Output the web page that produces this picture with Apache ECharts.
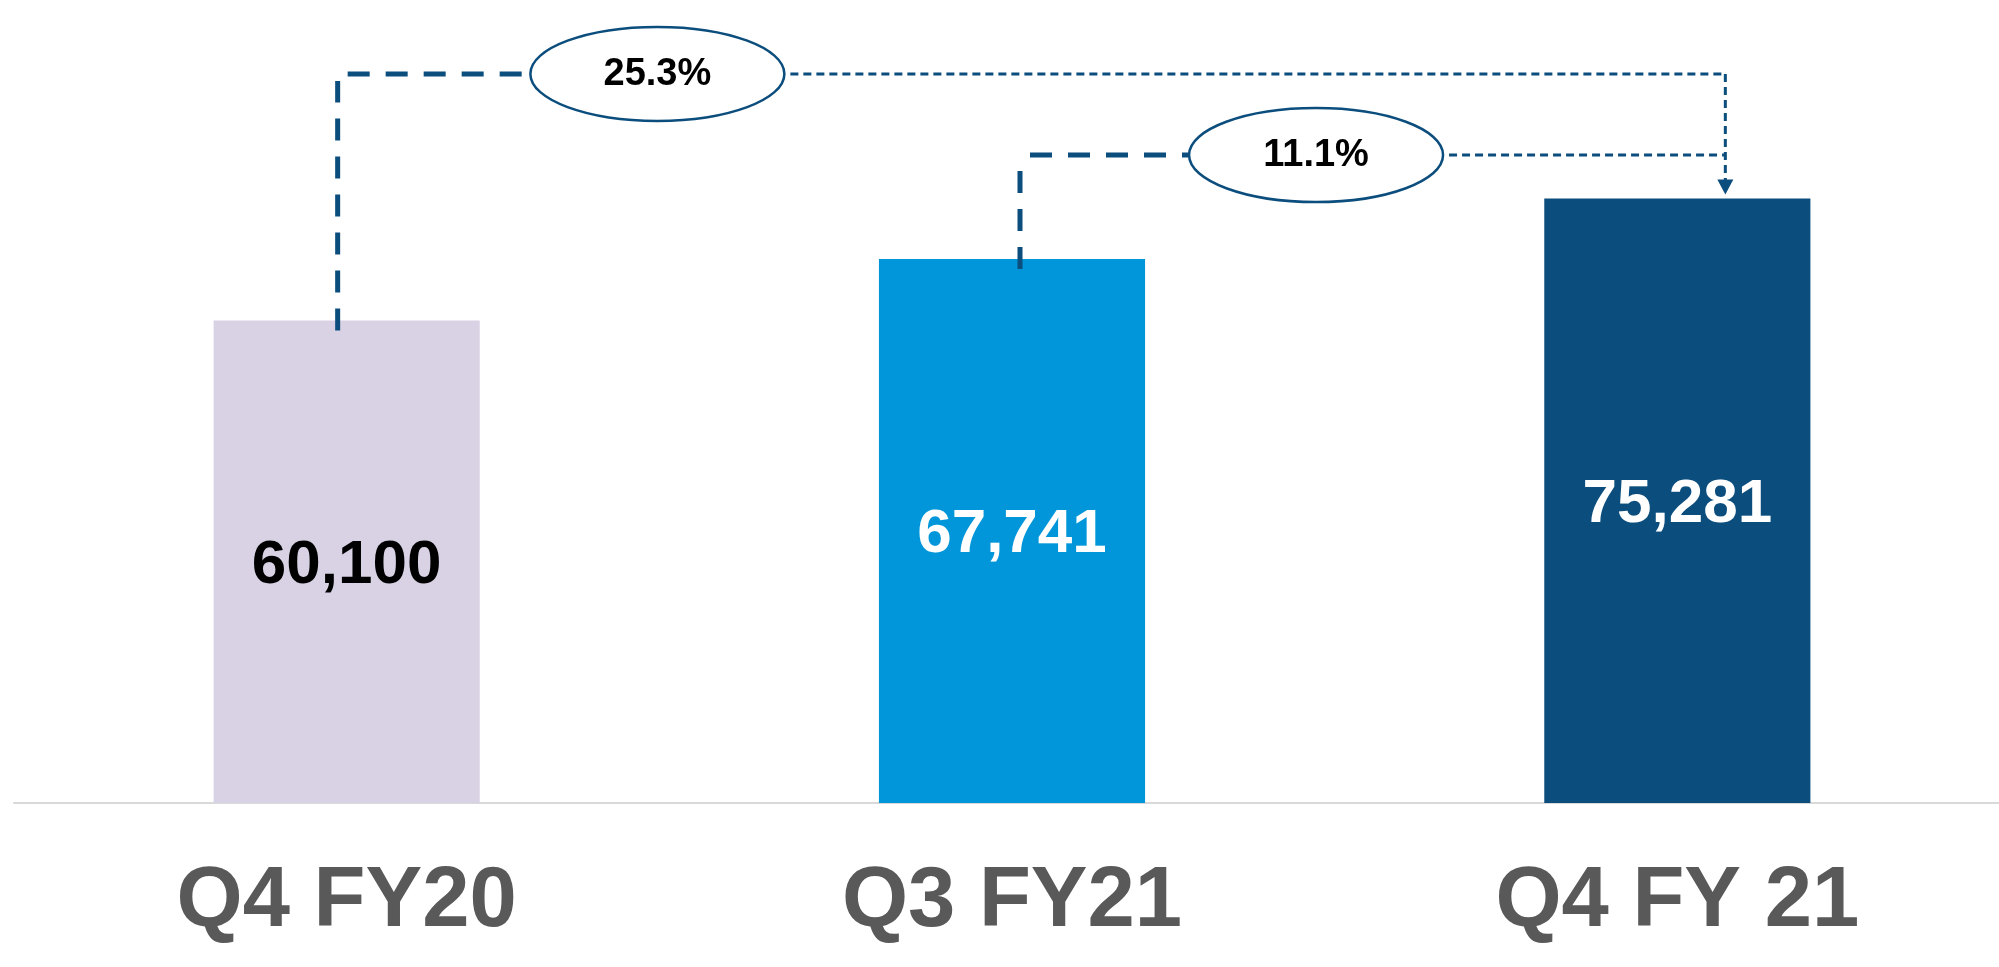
<!DOCTYPE html>
<html>
<head>
<meta charset="utf-8">
<script src="https://cdn.jsdelivr.net/npm/echarts@6/dist/echarts.min.js"></script>
<style>
  html, body { margin: 0; padding: 0; background: #fff; }
  #chart { width: 1999px; height: 967px; }
</style>
</head>
<body>
<div id="chart"></div>
<script>
const categories = ['Q4 FY20', 'Q3 FY21', 'Q4 FY 21']
const values = [60100, 67741, 75281]
const barColors = ['#d9d2e4', '#0096d9', '#0b4e7e']
const labelColors = ['#000000', '#ffffff', '#ffffff']

// growth callouts: from bar -> to bar
const growthLabels = ['25.3%', '11.1%']
const growthFrom = [0, 1]
const growthTo = [2, 2]

// placement of the callout connectors (y-axis units)
const connectorLevels = [90800, 80700]
const startOffsets = [-9, 8]
const ellipseFracs = [0.467, 0.457]
const arrowFlags = [true, false]

const FONT = '"Liberation Sans", Arial, Helvetica, sans-serif'
const LINE_COLOR = '#0b4d7d'

const chart = echarts.init(document.getElementById('chart'))

function renderCallout(params, api) {
  const i = params.dataIndex
  const from = growthFrom[i]
  const to = growthTo[i]
  const level = connectorLevels[i]

  const pBar = api.coord([from, values[from]])
  const pLevel = api.coord([from, level])
  const pNext = api.coord([from + 1, level])
  const pTo = api.coord([to, values[to]])

  const rx = 127
  const ry = 47
  const sx = pBar[0] + startOffsets[i]
  const cy = pLevel[1]
  const cx = pLevel[0] + (pNext[0] - pLevel[0]) * ellipseFracs[i]
  const ex = pTo[0] + 48

  const thick = { stroke: LINE_COLOR, lineWidth: 5, lineDash: [22, 16], fill: null }
  const thin = { stroke: LINE_COLOR, lineWidth: 3, lineDash: [8, 5], fill: null }

  const children = [
    { type: 'line', shape: { x1: sx, y1: pBar[1] + 10, x2: sx, y2: cy + 7 }, style: thick },
    { type: 'line', shape: { x1: sx + 10, y1: cy, x2: cx - rx, y2: cy }, style: thick },
    { type: 'line', shape: { x1: cx + rx + 6, y1: cy, x2: ex, y2: cy }, style: thin },
  ]

  if (arrowFlags[i]) {
    const tipY = pTo[1] - 4
    children.push(
      { type: 'line', shape: { x1: ex, y1: cy, x2: ex, y2: tipY - 14 }, style: thin },
      {
        type: 'polygon',
        shape: { points: [[ex - 8, tipY - 15], [ex + 8, tipY - 15], [ex, tipY]] },
        style: { fill: LINE_COLOR },
      }
    )
  }

  children.push(
    {
      type: 'ellipse',
      shape: { cx: cx, cy: cy, rx: rx, ry: ry },
      style: { fill: '#ffffff', stroke: LINE_COLOR, lineWidth: 2.5 },
    },
    {
      type: 'text',
      x: cx,
      y: cy + 1,
      style: {
        text: growthLabels[i],
        font: 'bold 38px ' + FONT,
        fill: '#000000',
        align: 'center',
        verticalAlign: 'middle',
      },
    }
  )

  return { type: 'group', children }
}

const option = {
  animation: false,
  backgroundColor: '#ffffff',
  grid: { left: 14, right: -11, top: 0, bottom: 164, outerBoundsMode: 'none' },
  xAxis: {
    type: 'category',
    data: categories,
    axisLine: { show: true, lineStyle: { color: '#d9d9d9', width: 2 } },
    axisTick: { show: false },
    axisLabel: {
      margin: 57,
      fontSize: 85,
      lineHeight: 85,
      fontWeight: 'bold',
      fontFamily: FONT,
      color: '#595959',
    },
  },
  yAxis: {
    type: 'value',
    min: 0,
    max: 100000,
    show: false,
    splitLine: { show: false },
  },
  series: [
    {
      type: 'bar',
      barWidth: '40%',
      data: values.map((v, i) => ({
        value: v,
        itemStyle: { color: barColors[i] },
        label: { color: labelColors[i] },
      })),
      label: {
        show: true,
        position: 'inside',
        offset: [0, 4],
        fontSize: 62,
        fontWeight: 'bold',
        fontFamily: FONT,
        formatter: (p) => p.value.toLocaleString('en-US'),
      },
    },
    {
      type: 'custom',
      clip: false,
      z: 5,
      data: growthLabels.map((l, i) => [growthFrom[i], connectorLevels[i]]),
      renderItem: renderCallout,
    },
  ],
}

chart.setOption(option)
</script>
</body>
</html>
